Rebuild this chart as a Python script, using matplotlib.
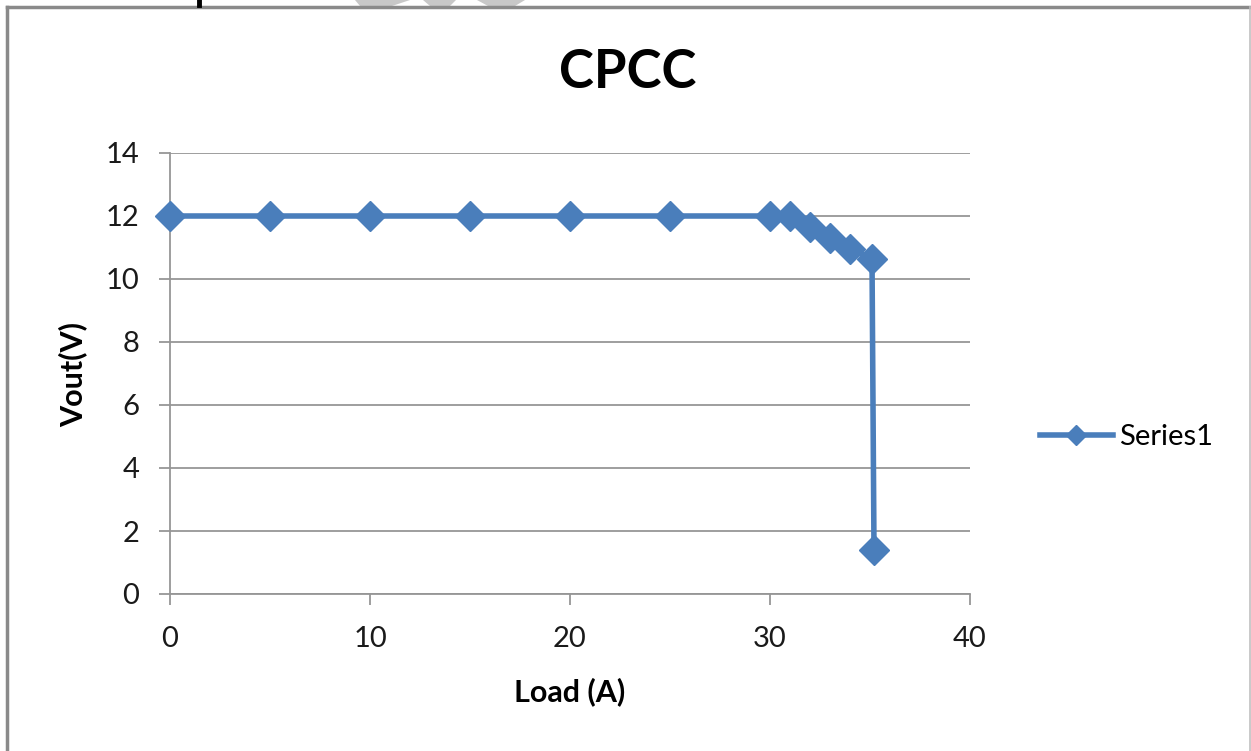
import matplotlib
matplotlib.use('Agg')
import matplotlib.pyplot as plt
from matplotlib.lines import Line2D
from matplotlib.patches import Polygon

# data
load_a = [0, 5, 10, 15, 20, 25, 30, 31, 32, 33, 34, 35.1, 35.2]
vout_v = [12, 12, 12, 12, 12, 12, 12, 12, 11.65, 11.3, 10.95, 10.65, 1.4]
x_ticks = [0, 10, 20, 30, 40]
y_ticks = [0, 2, 4, 6, 8, 10, 12, 14]

W, H = 1251, 751
blue = '#4a7ebb'
grid_grey = '#969696'

plt.rcParams['font.family'] = ['Lato', 'DejaVu Sans']

fig = plt.figure(figsize=(W / 100, H / 100), dpi=100)
fig.patch.set_facecolor('white')

# axes placed to match the pixel box of the plot area
ax = fig.add_axes([170 / W, 1 - 594 / H, 800 / W, 441 / H])
ax.plot(load_a, vout_v, color=blue, lw=4, marker='D', markersize=15,
        markeredgecolor=blue, label='Series1', clip_on=False, zorder=3)

ax.set_xlim(0, 40)
ax.set_ylim(0, 14)
ax.set_xticks(x_ticks)
ax.set_yticks(y_ticks)
ax.yaxis.grid(True, color=grid_grey, lw=1.3)
ax.set_axisbelow(True)
for s in ['top', 'right']:
    ax.spines[s].set_visible(False)
for s in ['left', 'bottom']:
    ax.spines[s].set_color(grid_grey)
    ax.spines[s].set_linewidth(1.3)
ax.tick_params(axis='both', colors=grid_grey, width=1.3, length=8, labelsize=21,
               labelcolor='#1a1a1a')
ax.tick_params(axis='x', pad=15)
ax.tick_params(axis='y', pad=14)

ax.set_xlabel('Load (A)', fontsize=22, fontweight='bold', va='center')
ax.set_ylabel('Vout(V)', fontsize=22, fontweight='bold', va='center')
ax.xaxis.set_label_coords(0.5, (594 - 692) / 441)
ax.yaxis.set_label_coords((73 - 170) / 800, (594 - 375) / 441)
fig.text(628 / W, 1 - 73 / H, 'CPCC', ha='center', va='center',
         fontsize=38, fontweight='bold')

leg = fig.legend(loc='center left', bbox_to_anchor=(1040 / W, 1 - 437 / H),
                 frameon=False, fontsize=21, markerscale=0.7, handlelength=2.5,
                 handletextpad=0.2, borderpad=0, borderaxespad=0)

# outer chart border, cut by the page edge
tf = fig.transFigure
fig.add_artist(Line2D([6.5 / W, 6.5 / W], [0, 1 - 7 / H], color='#8a8a8a', lw=2.5, transform=tf))
fig.add_artist(Line2D([6.5 / W, 1], [1 - 7 / H, 1 - 7 / H], color='#8a8a8a', lw=2.5, transform=tf))
fig.add_artist(Line2D([1250 / W, 1250 / W], [0, 1 - 7 / H], color='#c0c0c0', lw=1.2, transform=tf))

# bits of page content above the chart
fig.add_artist(Line2D([199 / W, 199 / W], [1, 1 - 5 / H], color='black', lw=3.5, transform=tf))
for pts in ([(355, 0), (410, 0), (392, 6), (360, 6)],
            [(423, 0), (456, 0), (450, 6), (430, 6)],
            [(477, 0), (525, 0), (515, 6), (488, 6)]):
    fig.add_artist(Polygon([(x / W, 1 - y / H) for x, y in pts], closed=True,
                           facecolor='#c8c8c8', edgecolor='none', transform=tf))

fig.savefig('out.png', dpi=100)
